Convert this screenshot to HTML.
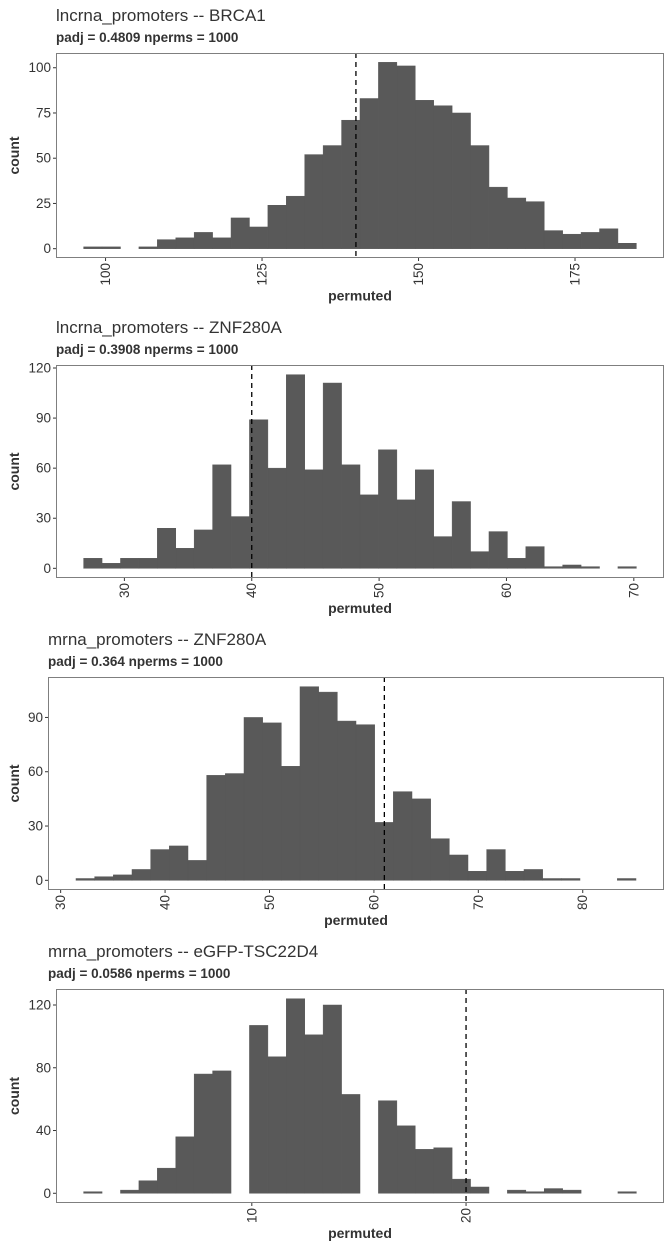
<!DOCTYPE html>
<html><head><meta charset="utf-8">
<style>
html,body{margin:0;padding:0;background:#fff;}
svg{display:block;font-family:"Liberation Sans",Arial,sans-serif;}
</style></head>
<body>
<svg id="chart" width="672" height="1248" viewBox="0 0 672 1248"></svg>
<script>
// ---- data ----
const p1Counts=[1,1,0,1,5,6,9,6,17,12,24,29,52,57,71,83,103,101,82,79,75,57,34,28,26,10,8,9,11,3];
const p1Range=[96.5,184.8];
const p1Line=140;
const p1XTicks=[100,125,150,175];
const p1YTicks=[0,25,50,75,100];
const p1Title="lncrna_promoters -- BRCA1";
const p1Sub="padj = 0.4809 nperms = 1000";

const p2Counts=[6,3,6,6,24,12,23,62,31,89,60,116,59,111,62,44,71,41,59,19,40,10,22,6,13,1,2,1,0,1];
const p2Range=[26.8,70.2];
const p2Line=40;
const p2XTicks=[30,40,50,60,70];
const p2YTicks=[0,30,60,90,120];
const p2Title="lncrna_promoters -- ZNF280A";
const p2Sub="padj = 0.3908 nperms = 1000";

const p3Counts=[1,2,3,6,17,19,11,58,59,90,87,63,107,104,88,86,32,49,45,23,14,5,17,5,6,1,1,0,0,1];
const p3Range=[31.47,85.1];
const p3Line=61;
const p3XTicks=[30,40,50,60,70,80];
const p3YTicks=[0,30,60,90];
const p3Title="mrna_promoters -- ZNF280A";
const p3Sub="padj = 0.364 nperms = 1000";

const p4Counts=[1,0,2,8,16,36,76,78,0,107,87,124,101,120,63,0,59,43,28,29,9,4,0,2,1,3,2,0,0,1];
const p4Range=[2.15,27.95];
const p4Line=20;
const p4XTicks=[10,20];
const p4YTicks=[0,40,80,120];
const p4Title="mrna_promoters -- eGFP-TSC22D4";
const p4Sub="padj = 0.0586 nperms = 1000";

// ---- layout ----
const NS="http://www.w3.org/2000/svg";
const svg=document.getElementById('chart');
function mk(tag,attrs,parent){const e=document.createElementNS(NS,tag);for(const k in attrs)e.setAttribute(k,attrs[k]);(parent||svg).appendChild(e);return e;}

function panel(id,counts,range,line,xticks,yticks,title,sub,box){
  const g=mk('g',{});
  
  
  const maxC=Math.max(...counts);
  const yMin=-0.05*maxC, yMax=1.05*maxC;
  const span=range[1]-range[0];
  const xMin=range[0]-0.05*span, xMax=range[1]+0.05*span;
  const X=v=>box.l+(v-xMin)/(xMax-xMin)*(box.r-box.l);
  const Y=v=>box.b-(v-yMin)/(yMax-yMin)*(box.b-box.t);
  const t=mk('text',{x:box.tx,y:box.t-32,'font-size':17,fill:'#333'},g);t.textContent=title;
  
  
  const s=mk('text',{x:box.tx,y:box.t-11,'font-size':13.5,'font-weight':'bold',fill:'#333'},g);s.textContent=sub;
  
  
  const w=span/counts.length;
  counts.forEach((c,i)=>{
    if(c<=0)return;
    const x0=X(range[0]+i*w),x1=X(range[0]+(i+1)*w);
    const r=mk('rect',{x:x0,y:Y(c),width:x1-x0,height:Math.max(Y(0)-Y(c),0.8),fill:'#595959',stroke:'#595959','stroke-width':0.5},g);
    
    
  });
  const vl=mk('line',{x1:X(line),x2:X(line),y1:box.t,y2:box.b,stroke:'#000','stroke-width':1.3,'stroke-dasharray':'5,4'},g);
  
  
  const bd=mk('rect',{x:box.l+0.5,y:box.t+0.5,width:box.r-box.l-1,height:box.b-box.t-1,fill:'none',stroke:'#7f7f7f','stroke-width':1},g);
  
  
  yticks.forEach(v=>{
    const y=Y(v);
    mk('line',{x1:box.l-3,x2:box.l,y1:y,y2:y,stroke:'#333'},g);
    const tl=mk('text',{x:box.l-5,y:y+4.5,'font-size':13.5,fill:'#333','text-anchor':'end'},g);tl.textContent=v;
    
    
  });
  let maxDigits=0;
  xticks.forEach(v=>{
    maxDigits=Math.max(maxDigits,String(v).length);
    const x=X(v);
    mk('line',{x1:x,x2:x,y1:box.b,y2:box.b+3,stroke:'#333'},g);
    const tl=mk('text',{x:0,y:0,'font-size':13.5,fill:'#333','text-anchor':'end',transform:`translate(${x+4.5},${box.b+5}) rotate(-90)`},g);tl.textContent=v;
    
    
  });
  const xt=mk('text',{x:(box.l+box.r)/2,y:box.b+20+7.5*maxDigits,'font-size':14,'font-weight':'bold',fill:'#333','text-anchor':'middle'},g);xt.textContent='permuted';
  
  
  const yc=(box.t+box.b)/2;
  const yt=mk('text',{x:0,y:0,'font-size':14,'font-weight':'bold',fill:'#333','text-anchor':'middle',transform:`translate(19,${yc}) rotate(-90)`},g);yt.textContent='count';
  
  
}
panel('panel-lncrna-brca1',p1Counts,p1Range,p1Line,p1XTicks,p1YTicks,p1Title,p1Sub,{l:56,r:664,t:53,b:258,tx:56});
panel('panel-lncrna-znf280a',p2Counts,p2Range,p2Line,p2XTicks,p2YTicks,p2Title,p2Sub,{l:56,r:664,t:365,b:578,tx:56});
panel('panel-mrna-znf280a',p3Counts,p3Range,p3Line,p3XTicks,p3YTicks,p3Title,p3Sub,{l:48,r:664,t:677,b:890,tx:48});
panel('panel-mrna-egfp-tsc22d4',p4Counts,p4Range,p4Line,p4XTicks,p4YTicks,p4Title,p4Sub,{l:56,r:664,t:989,b:1203,tx:48});
</script>
</body></html>
